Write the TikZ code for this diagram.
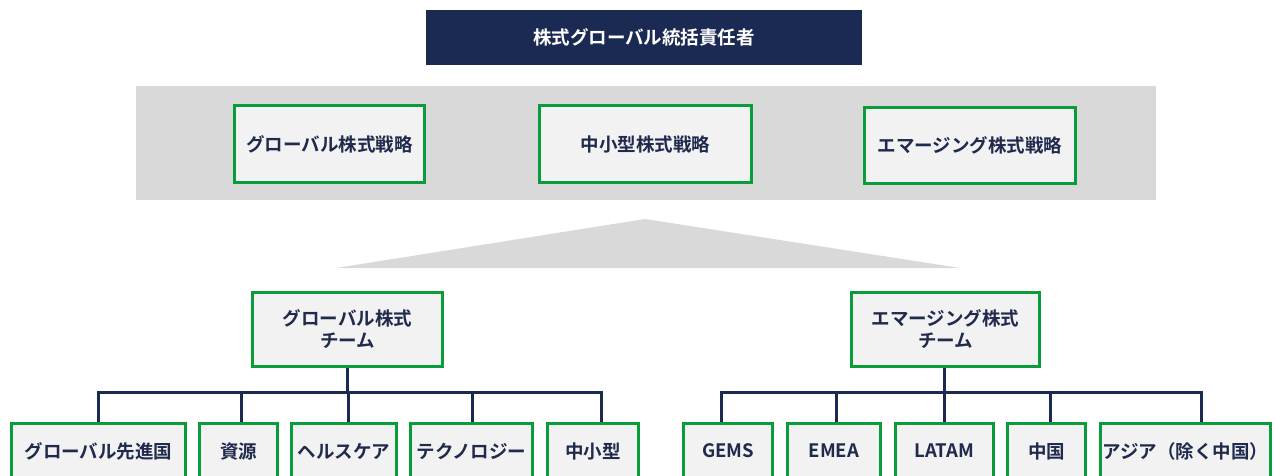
\documentclass[tikz,border=0pt]{standalone}
\usepackage{fontspec}
\setmainfont{Noto Sans CJK JP}[BoldFont={Noto Sans CJK JP Bold}]
\definecolor{navy}{HTML}{1B2A52}
\definecolor{txt}{HTML}{1F2A4D}
\definecolor{grn}{HTML}{0A9B3A}
\definecolor{boxfill}{HTML}{F2F2F2}
\definecolor{band}{HTML}{D9D9D9}
\begin{document}
\begin{tikzpicture}[x=1pt,y=-1pt,
  gbox/.style={draw=grn, line width=3pt, fill=boxfill, text=txt, font=\bfseries\fontsize{18.5}{22}\selectfont, align=center, inner sep=0pt},
  conn/.style={draw=navy, line width=3pt, line join=miter}]
\useasboundingbox (0,0) rectangle (1275,475);
\clip (0,0) rectangle (1275,475);
\fill[white] (0,0) rectangle (1275,475);
% title
\node[fill=navy, text=white, font=\bfseries\fontsize{18.5}{22}\selectfont, minimum width=436pt, minimum height=55pt, inner sep=0pt] (title) at (644,37.5) {株式グローバル統括責任者};
% band
\fill[band] (136,86) rectangle (1156,200);
\node[gbox, minimum width=190pt, minimum height=77pt] (s1) at (329.5,144) {グローバル株式戦略};
\node[gbox, minimum width=212pt, minimum height=77pt] (s2) at (645.5,144) {中小型株式戦略};
\node[gbox, minimum width=211pt, minimum height=76pt] (s3) at (970,145) {エマージング株式戦略};
% triangle
\fill[band] (645,219) -- (960,268) -- (336,268) -- cycle;
% teams
\node[gbox, minimum width=190pt, minimum height=74pt] (gteam) at (347.5,329.5) {グローバル株式\\チーム};
\node[gbox, minimum width=188pt, minimum height=74pt] (eteam) at (945.5,329.5) {エマージング株式\\チーム};
% bottom boxes
\node[gbox, minimum width=174pt, minimum height=56pt] (L1) at (98.5,451) {グローバル先進国};
\node[gbox, minimum width=78pt, minimum height=56pt] (L2) at (238.5,451) {資源};
\node[gbox, minimum width=105pt, minimum height=56pt] (L3) at (344,451) {ヘルスケア};
\node[gbox, minimum width=122pt, minimum height=56pt] (L4) at (471.5,451) {テクノロジー};
\node[gbox, minimum width=91pt, minimum height=56pt] (L5) at (593,451) {中小型};
\node[gbox, minimum width=89pt, minimum height=56pt] (R1) at (728,451) {GEMS};
\node[gbox, minimum width=93pt, minimum height=56pt] (R2) at (834,451) {EMEA};
\node[gbox, minimum width=98pt, minimum height=56pt] (R3) at (944.5,451) {LATAM};
\node[gbox, minimum width=78pt, minimum height=56pt] (R4) at (1046.5,451) {中国};
\node[gbox, minimum width=170pt, minimum height=56pt] (R5) at (1185.5,451) {アジア（除く中国）};
% connectors
\draw[conn] (gteam.south) -- ++(0,24) coordinate (gb);
\draw[conn] ([xshift=-0.5pt]L1.north) |- (gb);
\draw[conn] ([xshift=2.5pt]L2.north) |- (gb);
\draw[conn] ([xshift=4pt]L3.north) |- (gb);
\draw[conn] ([xshift=0.5pt]L4.north) |- (gb);
\draw[conn] ([xshift=8pt]L5.north) |- (gb);
\draw[conn] ([xshift=-1.5pt]eteam.south) -- ++(0,24) coordinate (eb);
\draw[conn] ([xshift=-7pt]R1.north) |- (eb);
\draw[conn] ([xshift=2pt]R2.north) |- (eb);
\draw[conn] ([xshift=-0.5pt]R3.north) |- (eb);
\draw[conn] ([xshift=3.5pt]R4.north) |- (eb);
\draw[conn] ([xshift=15.5pt]R5.north) |- (eb);
\end{tikzpicture}
\end{document}
